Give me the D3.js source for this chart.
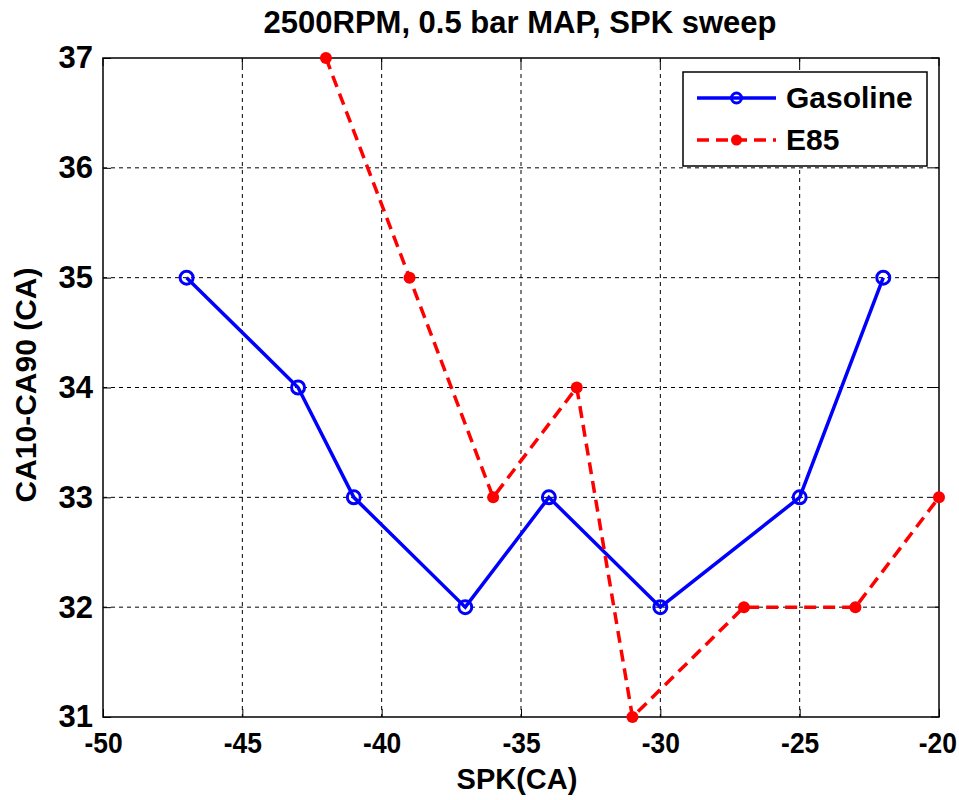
<!DOCTYPE html>
<html>
<head>
<meta charset="utf-8">
<script src="https://cdn.jsdelivr.net/npm/d3@7"></script>
<style>
  body { margin: 0; background: #fff; }
  svg { display: block; }
</style>
</head>
<body>
<div id="chart"></div>
<script>
// data
const spkGas = [-47, -43, -41, -37, -34, -30, -25, -22];
const burnGas = [35, 34, 33, 32, 33, 32, 33, 35];
const spkE85 = [-42, -39, -36, -33, -31, -27, -23, -20];
const burnE85 = [37, 35, 33, 34, 31, 32, 32, 33];
const xTicks = [-50, -45, -40, -35, -30, -25, -20];
const yTicks = [31, 32, 33, 34, 35, 36, 37];

const W = 959, H = 800;
let margin = { top: 58, right: 20, bottom: 83, left: 103 },
    width = 939 - margin.left,
    height = 717 - margin.top;

const font = "'Liberation Sans', Arial, sans-serif";

let svg = d3.select('#chart').append('svg')
    .attr('width', W).attr('height', H);
let g = svg.append('g')
    .attr('transform', 'translate(' + margin.left + ',' + margin.top + ')');

let x = d3.scaleLinear().domain([-50, -20]).range([0, width]);
let y = d3.scaleLinear().domain([31, 37]).range([height, 0]);

// dashed gridlines
g.append('g').selectAll('line').data(xTicks.slice(1, -1)).enter().append('line')
    .attr('x1', d => x(d)).attr('x2', d => x(d))
    .attr('y1', 0).attr('y2', height)
    .attr('stroke', '#000').attr('stroke-width', 1).attr('stroke-dasharray', '4,4');
g.append('g').selectAll('line').data(yTicks.slice(1, -1)).enter().append('line')
    .attr('y1', d => y(d)).attr('y2', d => y(d))
    .attr('x1', 0).attr('x2', width)
    .attr('stroke', '#000').attr('stroke-width', 1).attr('stroke-dasharray', '4,4');

// axes (ticks drawn inward like matlab)
let xAxis = g.append('g').attr('transform', 'translate(0,' + height + ')')
    .call(d3.axisBottom(x).tickValues(xTicks).tickSize(-8).tickPadding(14).tickFormat(d3.format('d')));
let yAxis = g.append('g')
    .call(d3.axisLeft(y).tickValues(yTicks).tickSize(-8).tickPadding(14).tickFormat(d3.format('d')));
xAxis.select('.domain').remove();
yAxis.select('.domain').remove();
xAxis.selectAll('line').attr('stroke', '#000');
yAxis.selectAll('line').attr('stroke', '#000');
// matlab labels look a bit condensed: squeeze them horizontally
xAxis.selectAll('text')
    .style('font-family', font).style('font-weight', 'bold').style('font-size', '30px').attr('fill', '#000')
    .attr('dy', null).attr('y', 36)
    .attr('transform', 'scale(0.88,1)')
    .text(d => d < 0 ? '-' + Math.abs(d) : d);
xAxis.selectAll('.tick').filter(d => d === -20)
    .select('text').attr('x', -2);
yAxis.selectAll('text')
    .style('font-family', font).style('font-weight', 'bold').style('font-size', '31px').attr('fill', '#000')
    .attr('x', -10);

// top/right ticks
g.append('g').selectAll('line').data(xTicks).enter().append('line')
    .attr('x1', d => x(d)).attr('x2', d => x(d)).attr('y1', 0).attr('y2', 8).attr('stroke', '#000');
g.append('g').selectAll('line').data(yTicks).enter().append('line')
    .attr('y1', d => y(d)).attr('y2', d => y(d)).attr('x1', width).attr('x2', width - 8).attr('stroke', '#000');

// box
g.append('rect').attr('width', width).attr('height', height)
    .attr('fill', 'none').attr('stroke', '#000').attr('stroke-width', 1.5);

let line = d3.line().x(d => x(d[0])).y(d => y(d[1]));
let gas = spkGas.map((s, i) => [s, burnGas[i]]);
let e85 = spkE85.map((s, i) => [s, burnE85[i]]);

g.append('path').datum(gas).attr('d', line)
    .attr('fill', 'none').attr('stroke', '#0000ff').attr('stroke-width', 3.5);
g.append('g').selectAll('circle').data(gas).enter().append('circle')
    .attr('cx', d => x(d[0])).attr('cy', d => y(d[1])).attr('r', 6.5)
    .attr('fill', 'none').attr('stroke', '#0000ff').attr('stroke-width', 3);

g.append('path').datum(e85).attr('d', line)
    .attr('fill', 'none').attr('stroke', '#ff0000').attr('stroke-width', 3.5)
    .attr('stroke-dasharray', '12,7');
g.append('g').selectAll('circle').data(e85).enter().append('circle')
    .attr('cx', d => x(d[0])).attr('cy', d => y(d[1])).attr('r', 6)
    .attr('fill', '#ff0000');

// legend
let lg = svg.append('g');
lg.append('rect').attr('x', 683).attr('y', 72).attr('width', 244).attr('height', 94)
    .attr('fill', '#fff').attr('stroke', '#000').attr('stroke-width', 1.5);
lg.append('line').attr('x1', 697).attr('x2', 776).attr('y1', 98).attr('y2', 98)
    .attr('stroke', '#0000ff').attr('stroke-width', 3.5);
lg.append('circle').attr('cx', 736.5).attr('cy', 98).attr('r', 5)
    .attr('fill', 'none').attr('stroke', '#0000ff').attr('stroke-width', 3);
lg.append('line').attr('x1', 697).attr('x2', 776).attr('y1', 140).attr('y2', 140)
    .attr('stroke', '#ff0000').attr('stroke-width', 3.5).attr('stroke-dasharray', '12,7');
lg.append('circle').attr('cx', 736.5).attr('cy', 140).attr('r', 5.5).attr('fill', '#ff0000');
lg.append('text').attr('x', 786).attr('y', 108).text('Gasoline')
    .style('font-family', font).style('font-weight', 'bold').style('font-size', '30px');
lg.append('text').attr('x', 786).attr('y', 150).text('E85')
    .style('font-family', font).style('font-weight', 'bold').style('font-size', '30px');

// title and axis labels
svg.append('text').attr('x', 520).attr('y', 33).attr('text-anchor', 'middle')
    .text('2500RPM, 0.5 bar MAP, SPK sweep')
    .style('font-family', font).style('font-weight', 'bold').style('font-size', '31px');
svg.append('text').attr('x', 517).attr('y', 789).attr('text-anchor', 'middle')
    .text('SPK(CA)')
    .style('font-family', font).style('font-weight', 'bold').style('font-size', '29px');
svg.append('text').attr('transform', 'translate(36,385) rotate(-90)').attr('text-anchor', 'middle')
    .text('CA10-CA90 (CA)')
    .style('font-family', font).style('font-weight', 'bold').style('font-size', '30px');
</script>
</body>
</html>
